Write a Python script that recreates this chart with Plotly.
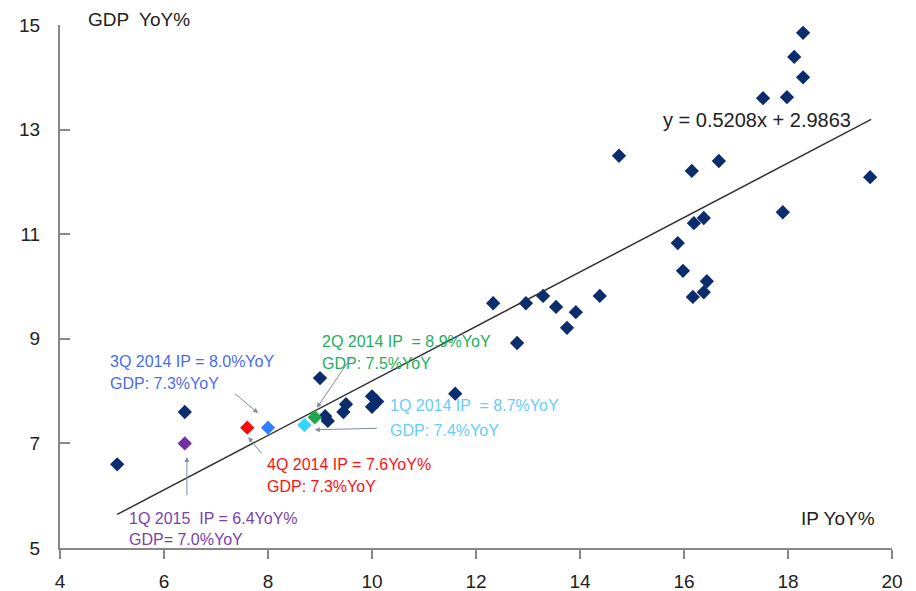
import plotly.graph_objects as go

# Historical quarterly points (navy)
ip_hist = [5.1, 6.4, 9.0, 9.1, 9.15, 9.5, 9.45, 10.0, 10.1, 10.0, 11.6,
           12.33, 12.79, 12.96, 13.29, 13.54, 13.75, 13.92, 14.38, 14.75,
           16.15, 16.67, 19.58, 17.9, 16.19, 16.38, 15.88, 15.98, 16.44,
           16.38, 16.17, 18.29, 18.12, 18.29, 17.52, 17.98]
gdp_hist = [6.6, 7.6, 8.25, 7.52, 7.43, 7.75, 7.6, 7.9, 7.8, 7.7, 7.95,
            9.68, 8.92, 9.68, 9.82, 9.61, 9.21, 9.51, 9.82, 12.5,
            12.21, 12.4, 12.09, 11.42, 11.21, 11.31, 10.83, 10.3, 10.1,
            9.89, 9.8, 14.85, 14.39, 14.0, 13.6, 13.62]

# Highlighted recent quarters
hl_names = ["1Q 2014", "2Q 2014", "3Q 2014", "4Q 2014", "1Q 2015"]
hl_ip = [8.7, 8.9, 8.0, 7.6, 6.4]
hl_gdp = [7.35, 7.5, 7.3, 7.3, 7.0]
hl_colors = ["#33D6FF", "#1FA84A", "#2F80FF", "#FF0A0A", "#7030A0"]
label_colors = ["#66CCFF", "#22B060", "#4A6CF0", "#FF1010", "#7A3FB0"]
label_line1 = ["1Q 2014 IP  = 8.7%YoY", "2Q 2014 IP  = 8.9%YoY",
               "3Q 2014 IP = 8.0%YoY", "4Q 2014 IP = 7.6YoY%",
               "1Q 2015  IP = 6.4YoY%"]
label_line2 = ["GDP: 7.4%YoY", "GDP: 7.5%YoY", "GDP: 7.3%YoY",
               "GDP: 7.3%YoY", "GDP= 7.0%YoY"]

# Trendline coefficients
slope = 0.5208
intercept = 2.9863
trend_x = [5.1, 19.6]

x_ticks = [4, 6, 8, 10, 12, 14, 16, 18, 20]
y_ticks = [5, 7, 9, 11, 13, 15]

fig = go.Figure()
fig.add_trace(go.Scatter(
    x=trend_x, y=[slope * v + intercept for v in trend_x], mode="lines",
    line=dict(color="#333333", width=1.5), showlegend=False, hoverinfo="skip"))
fig.add_trace(go.Scatter(
    x=ip_hist, y=gdp_hist, mode="markers",
    marker=dict(symbol="diamond", size=11, color="#0B2D6E"), showlegend=False))
fig.add_trace(go.Scatter(
    x=hl_ip, y=hl_gdp, mode="markers",
    marker=dict(symbol="diamond", size=11, color=hl_colors), showlegend=False))

FONT = "Liberation Sans, Arial, sans-serif"
ann = []
# label positions (data coords, left-anchored) and arrows (tail -> head)
lab_pos = [(10.3, 7.72, 7.24), (9.0, 8.94, 8.52), (4.92, 8.57, 8.14),
           (7.95, 6.6, 6.17), (5.29, 5.57, 5.17)]
arrows = [((10.12, 7.29), (8.9, 7.26)), ((9.63, 8.69), (8.94, 7.68)),
          ((7.33, 7.98), (7.81, 7.58)), ((7.9, 6.78), (7.62, 7.12)),
          ((6.44, 5.98), (6.44, 6.74))]
for i in range(len(hl_names)):
    lx, y1, y2 = lab_pos[i]
    for t, yy in ((label_line1[i], y1), (label_line2[i], y2)):
        ann.append(dict(x=lx, y=yy, xref="x", yref="y", text=t, showarrow=False,
                        xanchor="left", yanchor="middle",
                        font=dict(family=FONT, size=16, color=label_colors[i])))
    (tx, ty), (hx, hy) = arrows[i]
    ann.append(dict(x=hx, y=hy, ax=tx, ay=ty, xref="x", yref="y", axref="x", ayref="y",
                    text="", showarrow=True, arrowhead=2, arrowsize=1, arrowwidth=1,
                    arrowcolor="#7F8BA3"))

ann.append(dict(x=15.55, y=13.18, xref="x", yref="y", text="y = 0.5208x + 2.9863",
                showarrow=False, xanchor="left", yanchor="middle",
                font=dict(family=FONT, size=20, color="#222222")))
ann.append(dict(x=0.031, y=1.01, xref="paper", yref="paper", text="GDP  YoY%",
                showarrow=False, xanchor="left", yanchor="middle",
                font=dict(family=FONT, size=19, color="#222222")))
ann.append(dict(x=19.72, y=5.57, xref="x", yref="y", text="IP YoY%",
                showarrow=False, xanchor="right", yanchor="middle",
                font=dict(family=FONT, size=19, color="#222222")))

# page body has an 8px margin; figure sized so the plot lands where the reference has it
fig.update_layout(
    width=908, height=583, plot_bgcolor="white", paper_bgcolor="white",
    margin=dict(l=52, r=24, t=17, b=43), annotations=ann,
    font=dict(family=FONT, color="#222222"),
)
fig.update_xaxes(range=[4, 20], tickvals=x_ticks, ticks="outside", ticklen=9,
                 tickcolor="#888888", tickwidth=2, showline=True, linecolor="#888888",
                 linewidth=2, showgrid=False, zeroline=False, automargin=False,
                 ticklabelstandoff=6,
                 tickfont=dict(size=19, color="#222222"))
fig.update_yaxes(range=[5, 15], tickvals=y_ticks, ticks="inside", ticklen=10,
                 tickcolor="#888888", tickwidth=2, showline=True, linecolor="#888888",
                 linewidth=2, showgrid=False, zeroline=False, ticklabelstandoff=14,
                 automargin=False,
                 tickfont=dict(size=19, color="#222222"))

fig.write_html("out.html")
